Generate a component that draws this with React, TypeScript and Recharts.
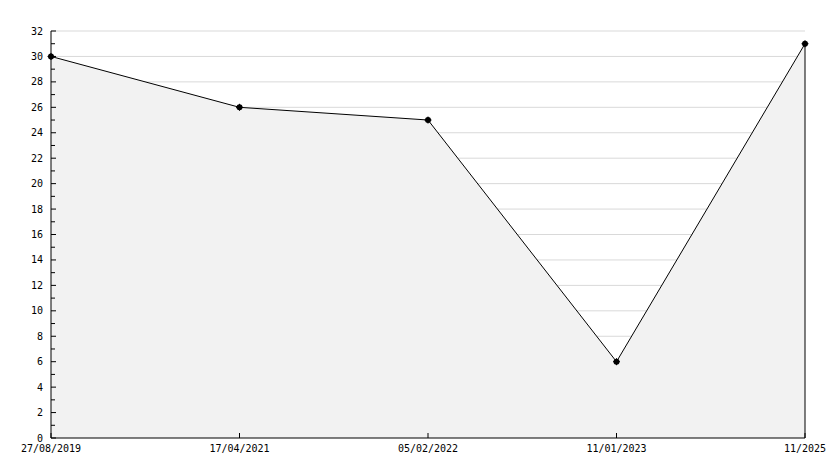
import React from "react";
import { AreaChart, Area, XAxis, YAxis, CartesianGrid, ReferenceLine } from "recharts";

const dates = ["27/08/2019", "17/04/2021", "05/02/2022", "11/01/2023", "11/2025"];
const values = [30, 26, 25, 6, 31];
const yTicks = Array.from({ length: 33 }, (_, i) => i);
const gridValues = [2, 4, 6, 8, 10, 12, 14, 16, 18, 20, 22, 24, 26, 28, 30, 32];

const data = dates.map((d, i) => ({ date: d, value: values[i] }));

const FONT = "'DejaVu Sans Mono', monospace";

const YTick = (props: any) => {
  const { x, y, payload } = props;
  const v = payload.value as number;
  const major = v % 2 === 0;
  return (
    <g>
      <line x1={x} x2={x + (major ? 5 : 4)} y1={y} y2={y} stroke="#000" strokeWidth={1} />
      {major && (
        <text x={x - 8} y={y} dy="0.35em" textAnchor="end" fontFamily={FONT} fontSize={10} fill="#000">
          {v}
        </text>
      )}
    </g>
  );
};

const XTick = (props: any) => {
  const { x, y, payload } = props;
  return (
    <g>
      <line x1={x} x2={x} y1={y} y2={y - 5} stroke="#000" strokeWidth={1} />
      <text x={x} y={y + 14} textAnchor="middle" fontFamily={FONT} fontSize={10} fill="#000">
        {payload.value}
      </text>
    </g>
  );
};

const Dot = (props: any) => {
  const { cx, cy } = props;
  if (cx == null || cy == null) return null;
  return (
    <g>
      <circle cx={cx} cy={cy} r={3} fill="#000" />
      <line x1={cx - 3.5} x2={cx + 3.5} y1={cy} y2={cy} stroke="#000" strokeWidth={1} />
      <line x1={cx} x2={cx} y1={cy - 3.5} y2={cy + 3.5} stroke="#000" strokeWidth={1} />
    </g>
  );
};

export default function App() {
  return (
    <div style={{ width: 826, height: 460, background: "#fff" }}>
      <AreaChart
        width={826}
        height={460}
        data={data}
        margin={{ top: 23, right: 29, bottom: 10, left: 0 }}
      >
        <CartesianGrid
          stroke="#d9d9d9"
          vertical={false}
          horizontalValues={gridValues}
          strokeWidth={1}
        />
        <XAxis
          dataKey="date"
          type="category"
          padding={{ left: 0, right: 0 }}
          height={20}
          tickSize={0}
          tickMargin={0}
          axisLine={{ stroke: "#000" }}
          tickLine={false}
          tick={<XTick />}
          interval={0}
        />
        <YAxis
          width={43}
          domain={[0, 32]}
          ticks={yTicks}
          interval={0}
          tickSize={0}
          tickMargin={0}
          axisLine={{ stroke: "#000" }}
          tickLine={false}
          tick={<YTick />}
          allowDecimals={false}
        />
        <Area
          type="linear"
          dataKey="value"
          stroke="#000"
          strokeWidth={1}
          fill="#f2f2f2"
          fillOpacity={1}
          isAnimationActive={false}
          dot={<Dot />}
          activeDot={false}
        />
        <ReferenceLine
          segment={[
            { x: dates[dates.length - 1], y: 0 },
            { x: dates[dates.length - 1], y: values[values.length - 1] },
          ]}
          stroke="#000"
          strokeWidth={1}
        />
      </AreaChart>
    </div>
  );
}
